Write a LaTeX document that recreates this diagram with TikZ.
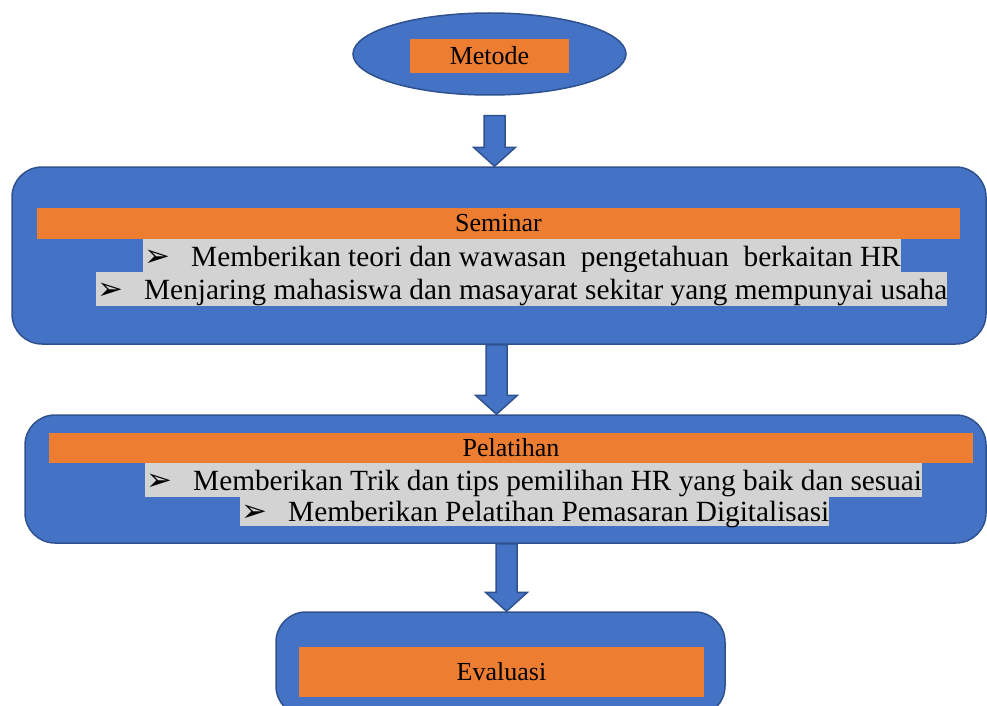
\documentclass[tikz,border=0pt]{standalone}
\usepackage{fontspec}
\setmainfont{Liberation Serif}
\newfontfamily\dingfont{DejaVu Sans}
\usetikzlibrary{calc,shapes.geometric}
\definecolor{boxblue}{RGB}{68,114,196}
\definecolor{boxline}{RGB}{47,82,143}
\definecolor{barorange}{RGB}{237,125,49}
\definecolor{itemgray}{RGB}{211,211,211}
\def\itembullet{\makebox[48pt][l]{\hspace{1pt}{\dingfont\fontsize{31}{31}\selectfont ➢}}}
\def\blockarrow(#1)(#2){\draw[arrowbody] let \p1=(#1), \p2=(#2) in (\x1-10.5pt,\y1) -- (\x1+10.5pt,\y1) -- (\x1+10.5pt,\y2+19pt) -- (\x1+21pt,\y2+19pt) -- (\x1,\y2) -- (\x1-21pt,\y2+19pt) -- (\x1-10.5pt,\y2+19pt) -- cycle;}

\begin{document}
\begin{tikzpicture}[x=1pt,y=-1pt,
		flowbox/.style={draw=boxline, fill=boxblue, line width=1.5pt, rounded corners=30pt, inner sep=0pt},
		titlebar/.style={fill=barorange, inner sep=0pt, font=\fontsize{26}{30}\selectfont},
		itemline/.style={fill=itemgray, inner xsep=0pt, inner ysep=0pt, anchor=north west,
			text height=27pt, text depth=6.5pt, font=\fontsize{29.3}{33}\selectfont},
		arrowbody/.style={draw=boxline, fill=boxblue, line width=1.5pt, line join=miter}]
			%%%%% START %%%%%
			\useasboundingbox (0,0) rectangle (987,706);
			\clip (0,0) rectangle (987,706);
			
			% Metode
			\node[ellipse, draw=boxline, fill=boxblue, line width=1.5pt, inner sep=0pt,
				minimum width=273pt, minimum height=82pt] (metode) at (489.5,54) {};
			\node[titlebar, minimum width=159pt, minimum height=34pt] (metodelbl) at (489.5,56) {Metode};
			
			% Seminar
			\node[flowbox, minimum width=974pt, minimum height=177pt] (seminar) at (499,255.5) {};
			\node[titlebar, minimum width=923pt, minimum height=31pt] (seminarbar) at (498.5,223.5) {Seminar};
			\node[itemline] (sem1) at (143,239)
				{\itembullet Memberikan teori dan wawasan\ \ pengetahuan\ \ berkaitan HR\hspace{2pt}};
			\node[itemline] (sem2) at (96,272)
				{\itembullet Menjaring mahasiswa dan masayarat sekitar yang mempunyai usaha\hspace{2pt}};
			
			% Pelatihan
			\node[flowbox, minimum width=961pt, minimum height=128pt] (pelatihan) at (505.5,479) {};
			\node[titlebar, minimum width=924pt, minimum height=30pt] (pelatihanbar) at (511,448) {Pelatihan};
			\node[itemline] (pel1) at (145,463)
				{\itembullet Memberikan Trik dan tips pemilihan HR yang baik dan sesuai\hspace{2pt}};
			\node[itemline, text height=24pt, text depth=5pt] (pel2) at (240,497)
				{\itembullet Memberikan Pelatihan Pemasaran Digitalisasi\hspace{2pt}};
			
			% Evaluasi
			\node[flowbox, minimum width=449pt, minimum height=104pt] (evaluasi) at (500.5,664) {};
			\node[titlebar, minimum width=405pt, minimum height=50pt] (evaluasilbl) at (501.5,672) {Evaluasi};
			
			% arrows
			\coordinate (a1) at (494.5,0);
			\coordinate (a2) at (496.5,0);
			\coordinate (a3) at (506.5,0);
			\blockarrow($(a1 |- metode.south)+(0,20)$)(a1 |- seminar.north)
			\blockarrow(a2 |- seminar.south)(a2 |- pelatihan.north)
			\blockarrow(a3 |- pelatihan.south)(a3 |- evaluasi.north)
			
			%%%%% END %%%%%
\end{tikzpicture}
\end{document}
